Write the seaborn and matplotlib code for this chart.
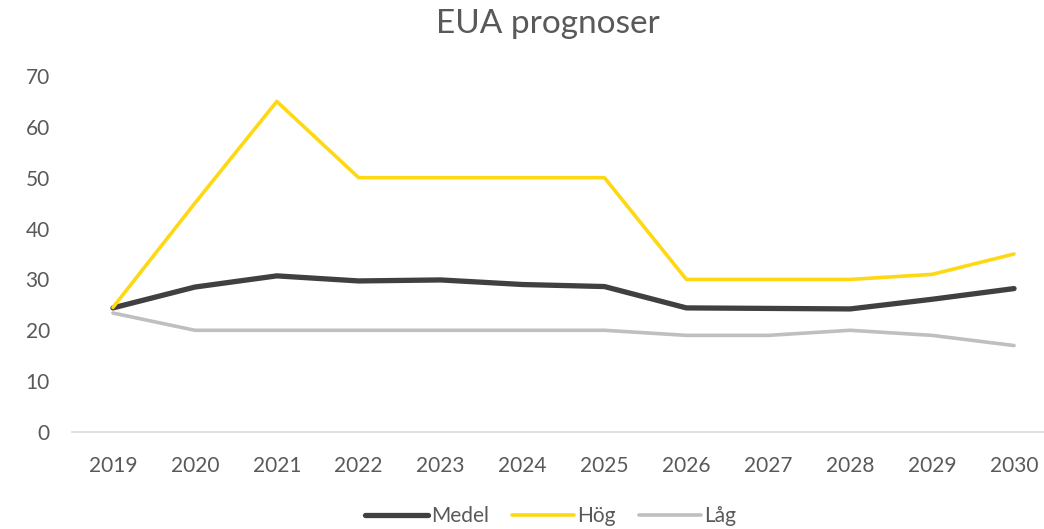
import matplotlib
matplotlib.use("Agg")
import matplotlib.pyplot as plt
import seaborn as sns
import pandas as pd

years = [2019, 2020, 2021, 2022, 2023, 2024, 2025, 2026, 2027, 2028, 2029, 2030]
medel = [24.4, 28.5, 30.7, 29.7, 29.9, 29.0, 28.6, 24.4, 24.3, 24.2, 26.1, 28.2]
hog = [24.5, 45.0, 65.0, 50.0, 50.0, 50.0, 50.0, 30.0, 30.0, 30.0, 31.0, 35.0]
lag = [23.4, 20.0, 20.0, 20.0, 20.0, 20.0, 20.0, 19.0, 19.0, 20.0, 19.0, 17.0]
series_names = ["Medel", "Hög", "Låg"]
title = "EUA prognoser"

sns.set_theme(style="white")
plt.rcParams['font.family'] = ['Lato', 'DejaVu Sans']

rows = []
for name, vals in zip(series_names, [medel, hog, lag]):
    for y, v in zip(years, vals):
        rows.append({"År": y, "Värde": v, "Serie": name})
df = pd.DataFrame(rows)

palette = {"Medel": "#404040", "Hög": "#FFD814", "Låg": "#BFBFBF"}
sizes = {"Medel": 3.8, "Hög": 2.6, "Låg": 2.6}

fig = plt.figure(figsize=(10.44, 5.29), dpi=100)
ax = fig.add_axes([72/1044, 97/529, 983/1044, 356/529])
sns.lineplot(data=df, x="År", y="Värde", hue="Serie", size="Serie",
             sizes=sizes, palette=palette, hue_order=series_names,
             ax=ax, legend=False, solid_capstyle="round")

ax.set_xlim(2018.5, 2030.5)
ax.set_ylim(0, 70)
ax.set_xticks(years)
ax.set_xticklabels([str(y) for y in years])
ax.set_yticks(range(0, 71, 10))
ax.set_xlabel("")
ax.set_ylabel("")
for s in ["top", "right", "left"]:
    ax.spines[s].set_visible(False)
ax.spines["bottom"].set_color("#D9D9D9")
ax.spines["bottom"].set_linewidth(1.2)
ax.tick_params(axis="both", length=0, labelsize=15, labelcolor="#595959")
ax.tick_params(axis="y", pad=16)
ax.tick_params(axis="x", pad=17)

fig.text(548/1044, 1 - 24/529, title, ha="center", va="center",
         fontsize=24, color="#595959")

from matplotlib.lines import Line2D
handles = [Line2D([0], [0], color=palette[n], lw=sizes[n], solid_capstyle="round") for n in series_names]
fig.legend(handles, series_names, loc="center", bbox_to_anchor=(551/1044, 1 - 516/529),
           ncol=3, frameon=False, fontsize=15, labelcolor="#595959",
           handlelength=3.0, handletextpad=0.15, columnspacing=1.1)

fig.savefig("out.png", dpi=100)
